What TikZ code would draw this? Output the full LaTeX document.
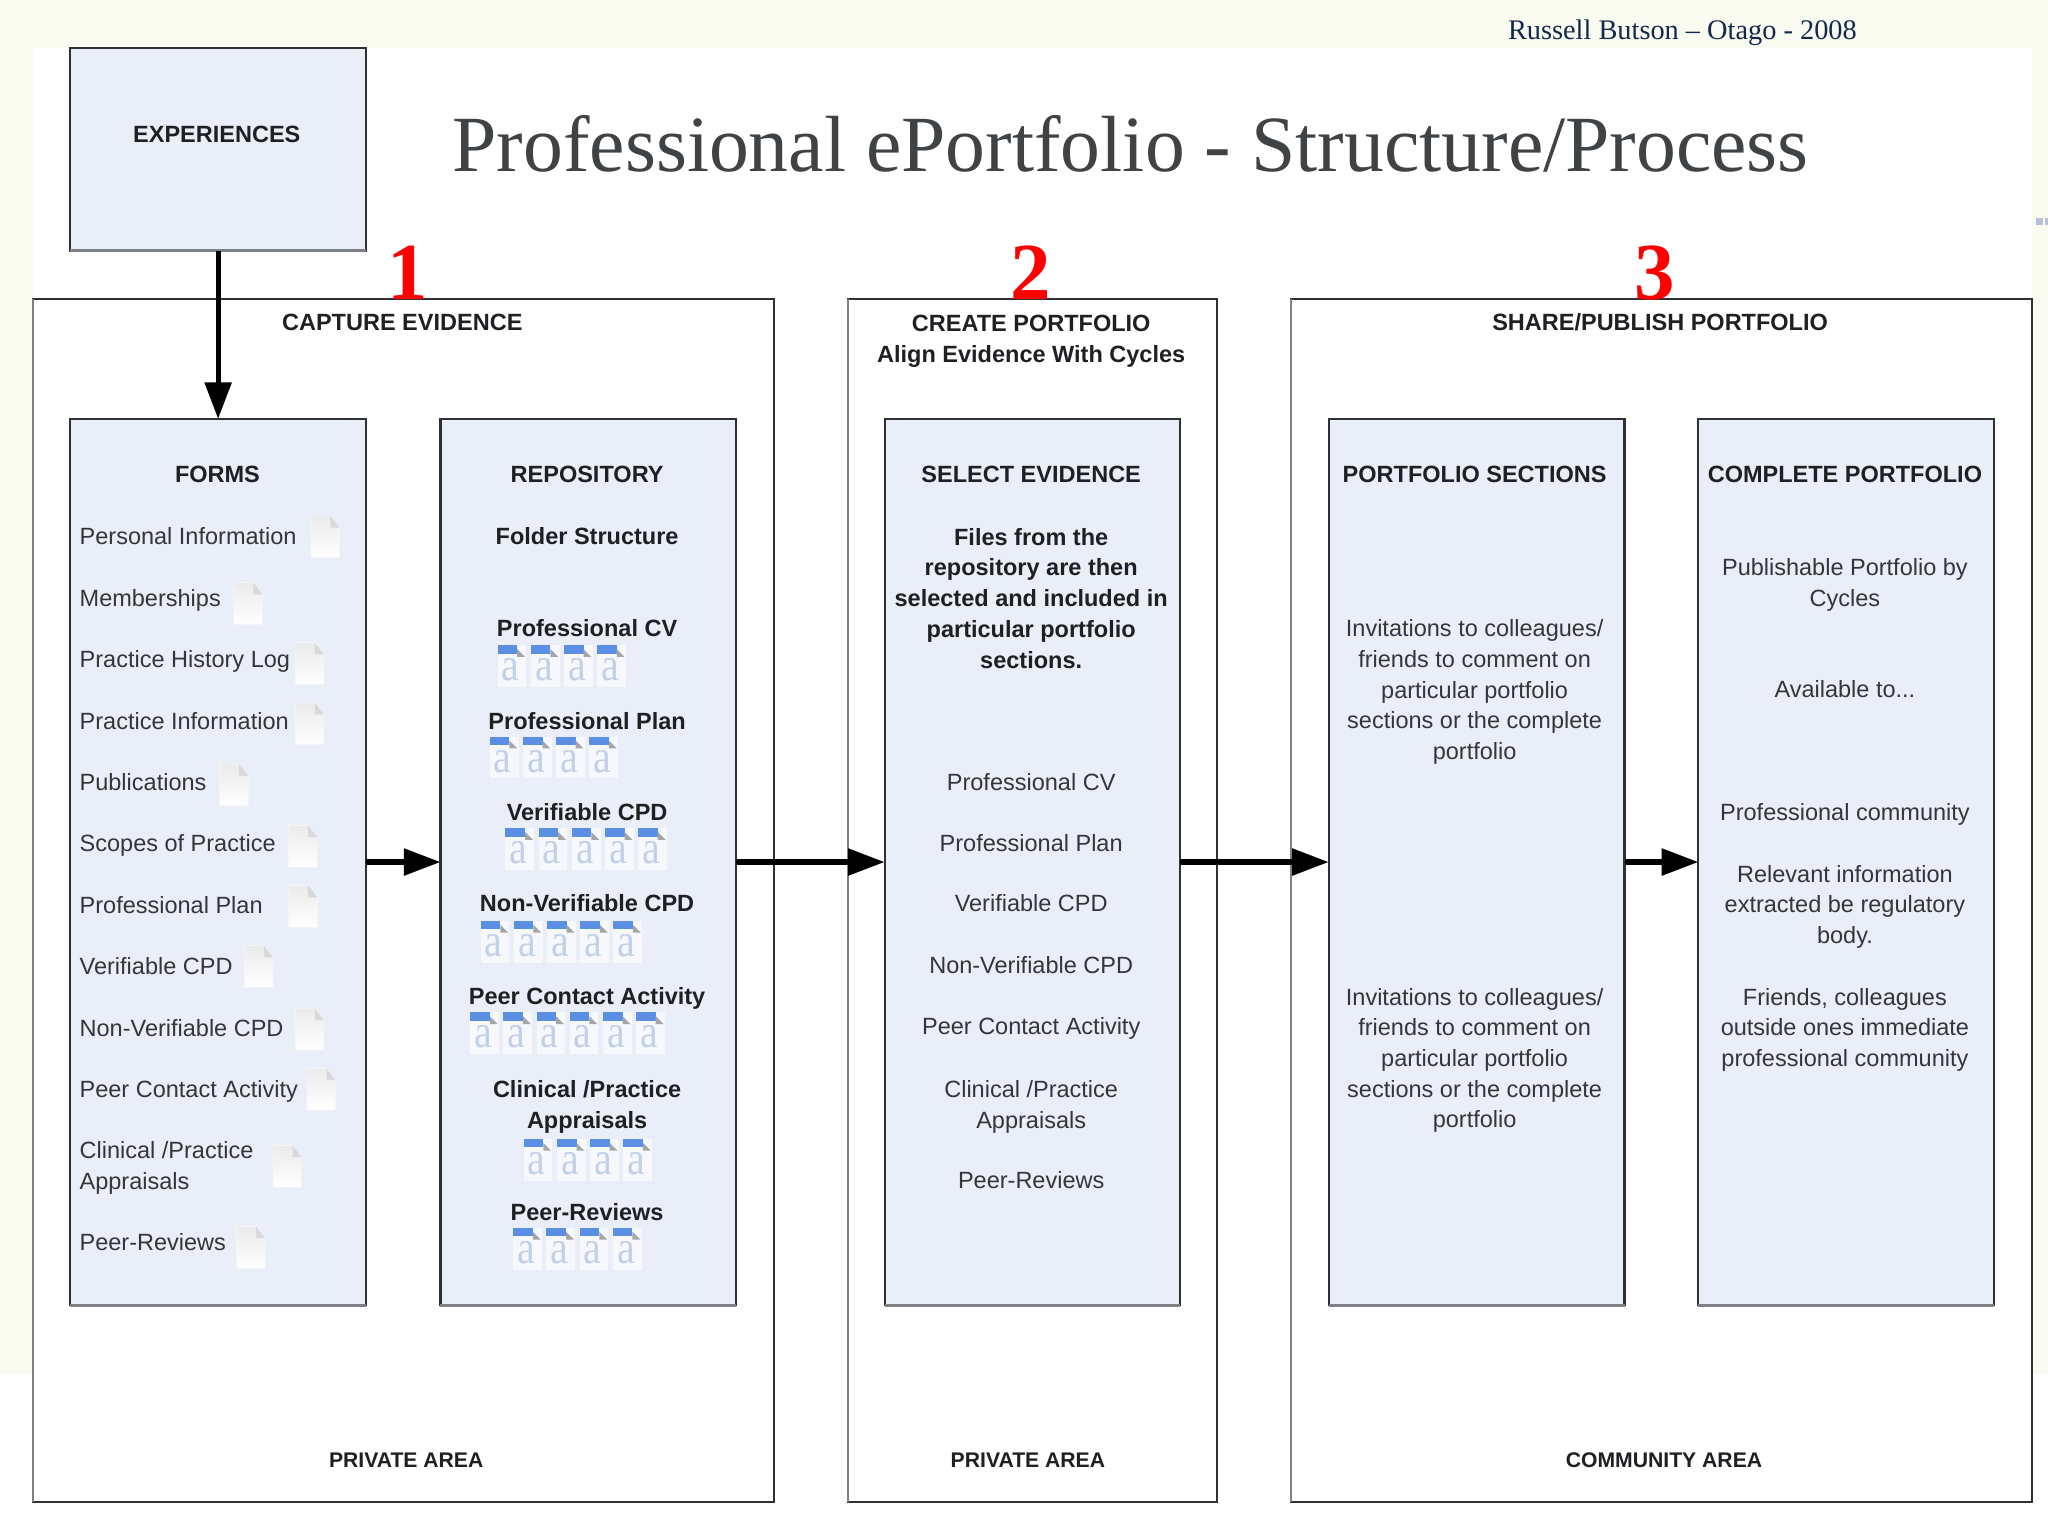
\documentclass[tikz,border=0pt]{standalone}
\usepackage{fontspec}
\setmainfont{Liberation Sans}
\newfontfamily\serifx{Liberation Serif}
\usetikzlibrary{arrows.meta}
\definecolor{cream}{HTML}{FAFBF0}
\definecolor{panel}{HTML}{E9EEF8}
\definecolor{edge}{HTML}{2E3033}
\definecolor{softedge}{HTML}{7E8286}
\definecolor{ink}{HTML}{33363A}
\definecolor{inkb}{HTML}{1E2023}
\definecolor{blueh}{HTML}{5B8FE3}
\definecolor{bluea}{HTML}{C2D1EA}
\definecolor{navy}{HTML}{12294B}
\definecolor{dots}{HTML}{B9C1D8}
\definecolor{titlec}{HTML}{404346}
\tikzset{
  x=0.5pt,y=-0.5pt,
  lab/.style={inner sep=0pt,outer sep=0pt,align=center,text=ink,yshift=-0.75pt,font=\fontsize{9}{11.75}\selectfont,execute at begin node=\strut,execute at end node=\strut},
  labb/.style={lab,text=inkb,font=\fontsize{9}{11.75}\selectfont\bfseries},
  labarea/.style={lab,text=inkb,font=\fontsize{8.1}{11.75}\selectfont\bfseries},
  labl/.style={lab,anchor=west,align=left},
  outerbox/.style={draw=edge,line width=0.8pt,fill=white,inner sep=0pt,outer sep=0pt},
  innerbox/.style={draw=edge,line width=0.8pt,fill=panel,inner sep=0pt,outer sep=0pt},
  softline/.style={draw=softedge,line width=1.1pt},
  flow/.style={draw=black,line width=2pt,-{Triangle[length=14pt,width=10pt]}},
  bignum/.style={inner sep=0pt,anchor=base,text=red,font=\serifx\bfseries\fontsize{31}{31}\selectfont},
  pics/blankdoc/.style={code={
    \path[top color=black!8,bottom color=white,draw=black!4,line width=0.3pt]
      (-11,-16) -- (4,-16) -- (11,-7) -- (11,16) -- (-11,16) -- cycle;
    \path[fill=black!15] (4,-16) -- (4,-7) -- (11,-7) -- cycle;
  }},
  pics/textdoc/.style={code={
    \path[fill=white,opacity=.6] (0,0) rectangle (22,32);
    \node[inner sep=0pt,text=bluea,xscale=.85,font=\serifx\fontsize{18}{18}\selectfont] (glyph) at (10,19) {a};
    \path[fill=blueh] (0,0) rectangle (15,6.5);
    \path[fill=black!35] (15,3) -- (21,9) -- (15,9) -- cycle;
  }},
}
\begin{document}
\begin{tikzpicture}
\useasboundingbox (0,0) rectangle (1568,1176);
\fill[cream] (0,0) rectangle (1568,1176);
\fill[white] (25,37) rectangle (1556,1176);
\fill[white] (0,1052) rectangle (1568,1176);
\fill[dots] (1559,167) rectangle (1564,172);
\fill[dots] (1566,167) rectangle (1568,172);

\node[outerbox,minimum width=567pt*0.5,minimum height=921pt*0.5] (capture) at (308.75,689.5) {};
\node[outerbox,minimum width=283pt*0.5,minimum height=921pt*0.5] (create) at (790.5,689.5) {};
\node[outerbox,minimum width=567.5pt*0.5,minimum height=921pt*0.5] (share) at (1272.25,689.5) {};

\node[innerbox,minimum width=226.5pt*0.5,minimum height=155pt*0.5] (experiences) at (167,114.5) {};
\node[innerbox,minimum width=226.5pt*0.5,minimum height=678.5pt*0.5] (forms) at (167,660) {};
\node[innerbox,minimum width=226.5pt*0.5,minimum height=678.5pt*0.5] (repository) at (450.5,660) {};
\node[innerbox,minimum width=226.5pt*0.5,minimum height=678.5pt*0.5] (select) at (790.5,660) {};
\node[innerbox,minimum width=226.5pt*0.5,minimum height=678.5pt*0.5] (sections) at (1130.5,660) {};
\node[innerbox,minimum width=226.5pt*0.5,minimum height=678.5pt*0.5] (complete) at (1413.5,660) {};
\foreach \b in {experiences,forms,repository,select,sections,complete}
  \draw[softline] (\b.south west) -- (\b.south east);
\foreach \b in {capture,create,share}
  \draw[softline,line width=.8pt] (\b.north west) -- (\b.south west);

\draw[flow] (experiences.south) -- (forms.north);
\draw[flow] (forms.east) -- (repository.west);
\draw[flow] (repository.east) -- (select.west);
\draw[flow] (select.east) -- (sections.west);
\draw[flow] (sections.east) -- (complete.west);

\node[inner sep=0pt,anchor=west,text=titlec,font=\serifx\fontsize{30.5}{30.5}\selectfont] (title) at (346,110) {Professional ePortfolio - Structure/Process};
\node[inner sep=0pt,anchor=east,text=navy,font=\serifx\fontsize{10.85}{11}\selectfont] (author) at (1422,25) {Russell Butson – Otago - 2008};
\node[bignum] (n1) at (312,229) {1};
\node[bignum] (n2) at (789,229) {2};
\node[bignum] (n3) at (1267,229) {3};

\node[labb] (texp) at (166,103) {EXPERIENCES};
\node[labb] (tcap) at (308,247) {CAPTURE EVIDENCE};
\node[labb] (tcre) at (789.5,261.5) {CREATE PORTFOLIO\\Align Evidence With Cycles};
\node[labb] (tsha) at (1271,247) {SHARE/PUBLISH PORTFOLIO};
\node[labarea] (tp1) at (311,1117) {PRIVATE AREA};
\node[labarea] (tp2) at (787,1117) {PRIVATE AREA};
\node[labarea] (tca) at (1274,1117) {COMMUNITY AREA};

\node[labb] (tforms) at (166.5,363) {FORMS};
\node[labb] (trepo) at (449.5,363) {REPOSITORY};
\node[labb] (tsel) at (789.5,363) {SELECT EVIDENCE};
\node[labb] (tsec) at (1129,363) {PORTFOLIO SECTIONS};
\node[labb] (tcom) at (1412.5,363) {COMPLETE PORTFOLIO};

% forms list
\foreach \t/\yy [count=\i] in {Personal Information/411,Memberships/458,Practice History Log/505,Practice Information/552,Publications/599,Scopes of Practice/646,Professional Plan/693,Verifiable CPD/740,Non-Verifiable CPD/787,Peer Contact Activity/834,{Clinical /Practice\\Appraisals}/894.5,Peer-Reviews/951}
  \node[labl] (form\i) at (61,\yy) {\t};
\foreach \xx/\yy in {249/411,190/462,237/508,237/554,179/601,232/648,232/694,198/740,237/788,246/834,220/893,192/955}
  \path (\xx,\yy) pic {blankdoc};

% repository
\node[labb] (rfold) at (449.5,411) {Folder Structure};
\foreach \t/\yy [count=\i] in {Professional CV/481,Professional Plan/552,Verifiable CPD/622,Non-Verifiable CPD/692,Peer Contact Activity/763,{Clinical /Practice\\Appraisals}/847.5,Peer-Reviews/928}
  \node[labb] (rep\i) at (449.5,\yy) {\t};
\foreach \xx/\yy/\n in {381/494/4,375/564/4,387/634/5,368/705/5,360/775/6,401/872/4,393/940/4}
  \foreach \k in {1,...,\n}
    \path ({\xx+(\k-1)*25.4},\yy) pic {textdoc};

% select
\node[labb] (sfiles) at (789.5,460) {Files from the\\repository are then\\selected and included in\\particular portfolio\\sections.};
\foreach \t/\yy [count=\i] in {Professional CV/599,Professional Plan/646,Verifiable CPD/692,Non-Verifiable CPD/739,Peer Contact Activity/786,{Clinical /Practice\\Appraisals}/847.5,Peer-Reviews/904}
  \node[lab] (sel\i) at (789.5,\yy) {\t};

% sections
\node[lab] (secA) at (1129,530) {Invitations to colleagues/\\friends to comment on\\particular portfolio\\sections or the complete\\portfolio};
\node[lab] (secB) at (1129,812) {Invitations to colleagues/\\friends to comment on\\particular portfolio\\sections or the complete\\portfolio};

% complete
\node[lab] (comA) at (1412.5,448) {Publishable Portfolio by\\Cycles};
\node[lab] (comB) at (1412.5,528) {Available to...};
\node[lab] (comC) at (1412.5,622) {Professional community};
\node[lab] (comD) at (1412.5,694.5) {Relevant information\\extracted be regulatory\\body.};
\node[lab] (comE) at (1412.5,788.5) {Friends, colleagues\\outside ones immediate\\professional community};
\end{tikzpicture}
\end{document}
